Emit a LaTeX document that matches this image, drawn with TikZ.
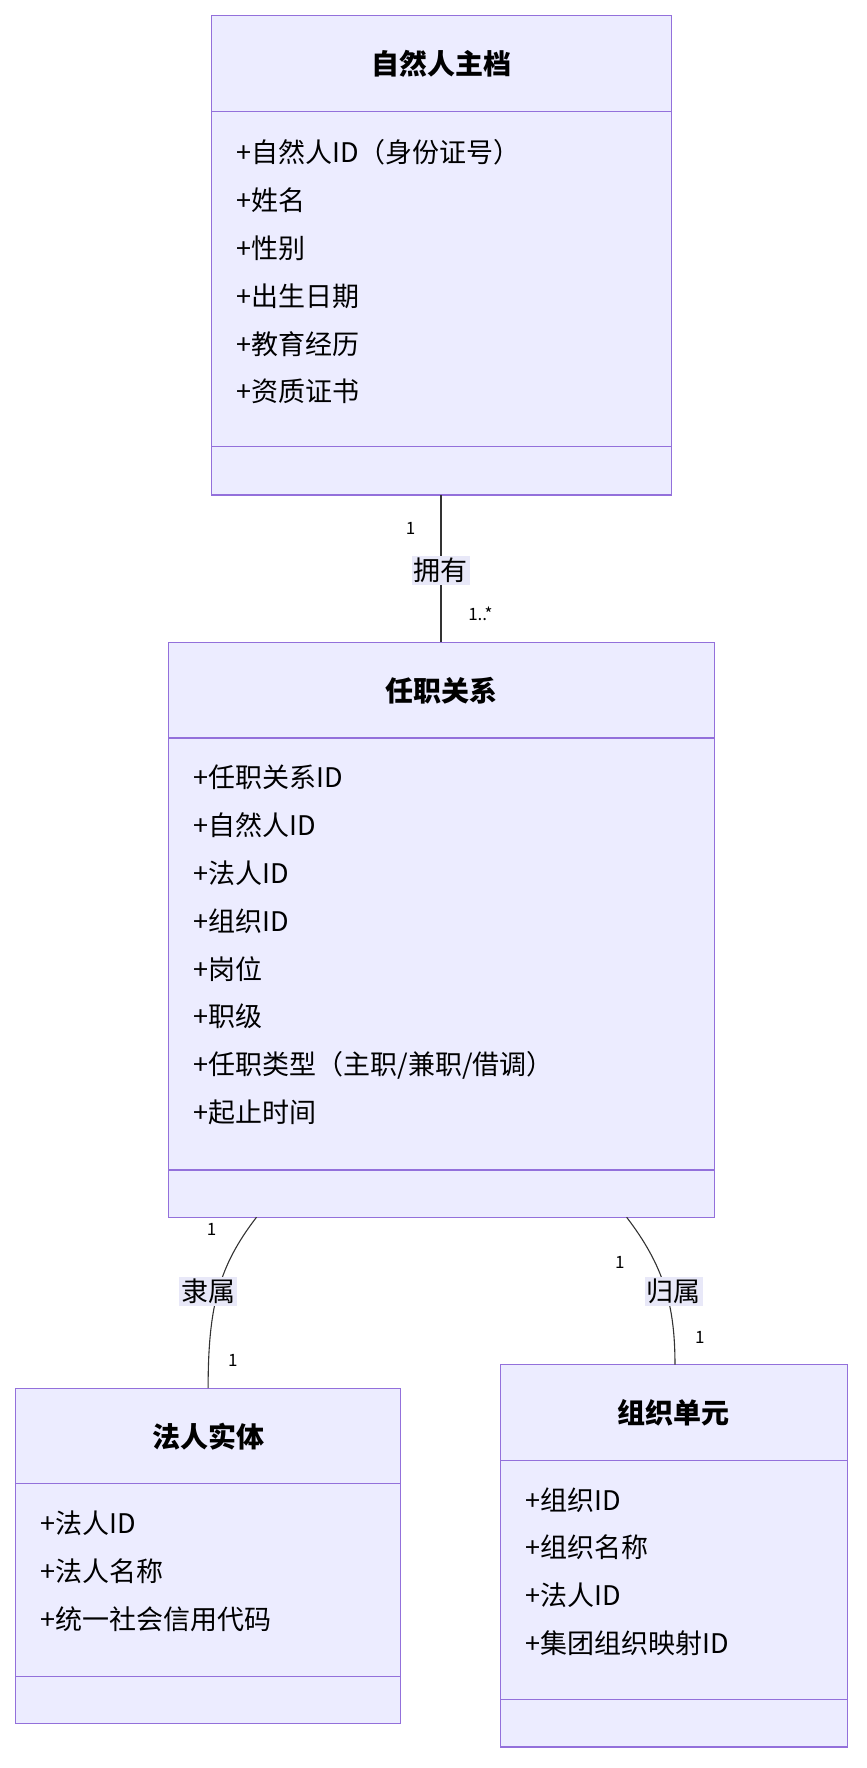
\documentclass[tikz,border=0pt]{standalone}
\usepackage{fontspec}
\setmainfont{Noto Sans CJK SC}
\usetikzlibrary{positioning,calc}
\definecolor{boxfill}{HTML}{ECECFF}
\definecolor{boxline}{HTML}{9370DB}
\definecolor{lblfill}{HTML}{E8E8F8}
\begin{document}
\begin{tikzpicture}[x=1.125pt,y=-1.125pt]
  \tikzset{classbox/.style = {draw=boxline,fill=boxfill,line width=1.2pt}}
  \tikzset{classline/.style = {draw=boxline,line width=1.2pt}}
  \tikzset{title/.style = {font=\fontsize{28}{30}\selectfont\bfseries,inner sep=0pt}}
  \tikzset{attrs/.style = {font=\fontsize{27}{47.8}\selectfont,align=left,anchor=north west,inner sep=0pt}}
  \tikzset{rel/.style = {fill=lblfill,font=\fontsize{27}{30}\selectfont,inner sep=2pt}}
  \tikzset{mult/.style = {font=\fontsize{17}{20}\selectfont,inner sep=0pt}}
  \tikzset{link/.style = {draw=black!80,line width=1.1pt}}
  \useasboundingbox (0,0) rectangle (769.8,1571.6);

  % class boxes
  \draw[classbox] (188,14) rectangle (597,440);
  \draw[classline] (188,99) -- (597,99) (188,397) -- (597,397);
  \node[title] (person) at (392.5,57) {自然人主档};
  \node[attrs] (personattr) at (210,124) {+自然人ID（身份证号）\\+姓名\\+性别\\+出生日期\\+教育经历\\+资质证书};

  \draw[classbox] (150,571) rectangle (635,1082);
  \draw[classline] (150,656) -- (635,656) (150,1040) -- (635,1040);
  \node[title] (post) at (392.5,614) {任职关系};
  \node[attrs] (postattr) at (172,680) {+任职关系ID\\+自然人ID\\+法人ID\\+组织ID\\+岗位\\+职级\\+任职类型（主职/兼职/借调）\\+起止时间};

  \draw[classbox] (14,1234) rectangle (356,1532);
  \draw[classline] (14,1319) -- (356,1319) (14,1490) -- (356,1490);
  \node[title] (legal) at (185,1277) {法人实体};
  \node[attrs] (legalattr) at (36,1343) {+法人ID\\+法人名称\\+统一社会信用代码};

  \draw[classbox] (445,1213) rectangle (753,1553);
  \draw[classline] (445,1298) -- (753,1298) (445,1511) -- (753,1511);
  \node[title] (org) at (599,1256) {组织单元};
  \node[attrs] (orgattr) at (467,1322) {+组织ID\\+组织名称\\+法人ID\\+集团组织映射ID};

  % connectors
  \coordinate (p1) at (392,440);
  \coordinate (p2) at (392,571);
  \coordinate (l1) at (228,1082);
  \coordinate (l2) at (185,1234);
  \coordinate (o1) at (557,1082);
  \coordinate (o2) at (600,1213);
  \draw[link] (p1) -- (p2);
  \draw[link] (l1) .. controls (195,1125) and (185,1160) .. (l2);
  \draw[link] (o1) .. controls (590,1125) and (600,1160) .. (o2);
  \node[rel] (own) at (392,507) {拥有};
  \node[rel] (belong) at (185,1148) {隶属};
  \node[rel] (attach) at (599,1148) {归属};
  \node[mult] at (365,470) {1};
  \node[mult] at (427,546) {1..*};
  \node[mult] at (188,1093) {1};
  \node[mult] at (207,1209) {1};
  \node[mult] at (551,1122) {1};
  \node[mult] at (622,1189) {1};
\end{tikzpicture}
\end{document}
